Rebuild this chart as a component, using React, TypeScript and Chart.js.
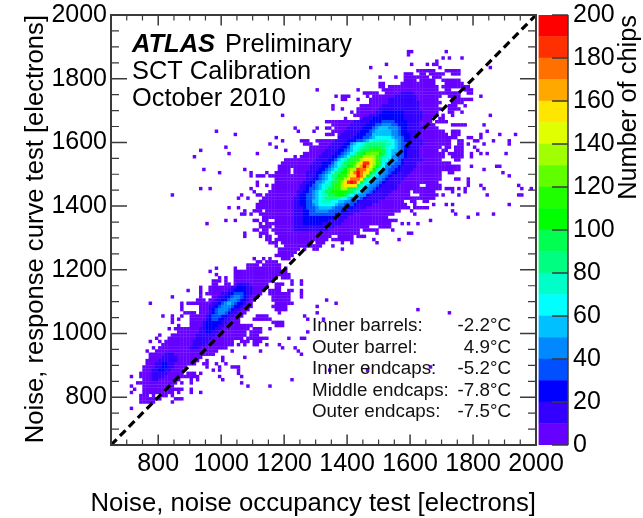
import React, { useEffect, useRef } from "react";
import { Chart, registerables } from "chart.js";

Chart.register(...registerables);

const FONT = '"Liberation Sans", Arial, sans-serif';

const axisLabels = [800, 1000, 1200, 1400, 1600, 1800, 2000];
const barTicks = [0, 20, 40, 60, 80, 100, 120, 140, 160, 180, 200];
const bandColors = [
  "#6600ff", "#3300ff", "#0000ff", "#0050ff", "#0088ff", "#00c0ff", "#00ffff", "#00ffc8", "#00ff80", "#00ff50",
  "#00ff00", "#20ff00", "#60ff00", "#a0ff00", "#e0ff00", "#ffe600", "#ffa800", "#ff7000", "#ff3000", "#ff0000",
];
const headerLines = ["SCT Calibration", "October 2010"];
const regionNames = ["Inner barrels:", "Outer barrel:", "Inner endcaps:", "Middle endcaps:", "Outer endcaps:"];
const regionTemps = ["-2.2°C", "4.9°C", "-5.2°C", "-7.8°C", "-7.5°C"];

// "lower y edge | bin-index spans = count in tens" (later spans overwrite earlier ones)
const upperRows = [
  "1880|94-95 106",
  "1870|94",
  "1860|105 107 111",
  "1850|103",
  "1840|87 95 100 102-103",
  "1830|82 104 120",
  "1820|97-102 106-110",
  "1810|93-95 98-99 101-105 108-110",
  "1800|85 90 93-100 102-104",
  "1790|93-96 98-102 105-110",
  "1780|85-86 92-102 106-111",
  "1770|85-86 88-103 105-113",
  "1760|65 78 86-103 106-107 112-114",
  "1750|80-84 87-104 105-110 113-114 92-95=1",
  "1740|71 73-75 81 83-84 85-104 107-110 117 90-96=1",
  "1730|73-74 78 82-84 85-103 108-114 88-96=1",
  "1720|82-83 84-104 108-111 88-97=1",
  "1710|70 79-83 84-103 107-109 112 86-97=1",
  "1700|70 73 78-104 107-110 85-97=1",
  "1690|76 78-103 107-108 111 84-98=1 86-92=2",
  "1680|54 77-103 105 108 120 82-98=1 85-92=2",
  "1670|74 79-101 104-105 80-98=1 83-92=2",
  "1660|68-76 77-101 103-106 77-97=1 82-93=2 86-89=3",
  "1650|70-102 108-112 118 76-97=1 81-93=2 84-90=3 86-88=4",
  "1640|58 65 68-69 71-103 75-98=1 80-93=2 83-91=3 84-90=4 85-87=5",
  "1630|33 59 64 70 71-105 108-110 119 74-97=1 79-93=2 82-91=3 83-90=4 84-88=5",
  "1620|39 68-70 72-106 108-110 117 123 128 73-97=1 78-94=2 81-91=3 83-90=4 83-88=5",
  "1610|52 72-107 108-109 113-114 117 72-97=1 77-94=2 80-92=3 82-91=4 83-89=5 84-88=6",
  "1600|54 60-62 65-107 110-111 115-116 121 126 71-98=1 75-94=2 78-92=3 80-91=4 81-90=5 82-89=6 83-87=7",
  "1590|50 61-63 66-107 110-111 113 118 126 70-98=1 74-94=2 76-93=3 76-91=4 77-90=5 78-89=6 80-88=7 81-86=8",
  "1580|36 52 63-64 65-104 106-107 109-111 115 69-97=1 73-94=2 75-92=3 76-91=4 76-90=5 77-89=6 79-87=7 80-86=8 82-85=9",
  "1570|28 55 63-103 105-106 109-111 116 68-97=1 72-93=2 74-92=3 75-91=4 76-90=5 77-88=6 78-87=7 79-86=8 80-86=9 82-85=11",
  "1560|37 46 61-103 104-105 107-111 114 117 119 125 67-97=1 71-93=2 73-92=3 74-90=4 75-89=5 76-88=6 77-87=7 78-86=9 80-85=10 81-84=12",
  "1550|26 58 60-103 104-105 108-111 114 66-97=1 70-93=2 72-92=3 73-90=4 74-88=5 75-88=6 76-87=7 76-85=9 78-84=11 80-83=13",
  "1540|55-57 58-104 109-110 65-98=1 69-92=2 71-91=3 72-90=4 72-88=5 73-87=6 74-86=7 75-85=9 77-84=11 79-83=13 80-82=15",
  "1530|54-105 106-107 64-96=1 67-92=2 70-91=3 71-89=4 71-87=5 72-86=6 73-85=7 74-85=9 76-84=11 78-83=13 79-82=15 80-81=18",
  "1520|53-106 107-110 114 122-123 63-96=1 67-91=2 69-90=3 70-88=4 71-86=5 72-86=6 73-85=8 75-84=10 77-83=12 78-82=14 79-81=16 80=19",
  "1510|29 42 53-56 58-99 100-106 107-110 118 63-95=1 66-91=2 68-89=3 69-87=4 70-85=5 71-85=6 72-84=8 74-83=10 75-82=12 76-82=13 78-81=15 79-80=17 78=18",
  "1500|34 44 49 52-56 58-104 107-108 124 62-94=1 65-90=2 67-88=3 68-87=4 69-85=5 70-84=6 71-83=8 73-82=10 75-81=12 76-81=15 77-79=17 78=19",
  "1490|44 46-48 50-51 52-104 126 62-93=1 65-88=2 66-87=3 67-86=4 68-84=5 69-83=6 70-82=8 72-81=10 73-80=11 75-80=13 76-80=15 78-79=17 78=19",
  "1480|52-104 109-110 113 62-92=1 64-87=2 66-86=3 67-85=4 68-83=5 69-82=6 70-81=7 71-80=9 72-79=11 74-79=13 75-79=15 76-78=17",
  "1470|46 52-103 113 61-91=1 63-86=2 65-85=3 65-84=4 67-82=5 68-81=6 69-80=7 70-79=9 72-78=11 73-78=13 74-78=15 75-77=18 76=19",
  "1460|46 49 51-97 100-104 113 117 129 60-90=1 62-85=2 64-84=3 65-83=4 66-81=5 67-80=6 68-79=7 70-78=9 71-77=11 73-76=13 74-77=15",
  "1450|28 31 44 51-95 96-104 106-108 110 112 118 130 133 60-90=1 62-84=2 63-83=3 65-82=4 66-80=5 67-79=6 68-78=7 69-77=9 71-75=11 73-74=13",
  "1440|45 50-94 96-102 108 112 59-88=1 61-83=2 63-82=3 64-81=4 65-79=5 66-78=6 67-77=7 68-76=9 70-74=10",
  "1430|19 41 46-47 49-94 98-103 105 110 119 129-130 59-87=1 60-81=2 62-80=3 64-80=4 65-77=5 66-76=6 67-75=7 69-74=9 71-73=10",
  "1420|40 43 48-96 97-102 58-86=1 60-80=2 62-79=3 64-78=4 65-75=5 66-74=6 67-72=7 68-71=8",
  "1410|47-92 95-96 99-100 58-84=1 60-78=2 62-77=3 64-75=4 64-73=5 66-71=6 67-69=7",
  "1400|46-93 96 102 106 108 126 58-82=1 60-77=2 62-76=3 64-73=4 65-71=5 66-70=6",
  "1390|37 40 46-94 96-100 58-80=1 61-76=2 62-74=3 65-70=4 66-69=5",
  "1380|42 45-47 49-91 95 108 58-78=1 61-74=2 63-72=3 65-68=4",
  "1370|41-42 44 47 48-89 96 109 116 121 58-76=1 61-72=2 63-70=3",
  "1360|48-87 113 58-74=1 61-70=2",
  "1350|36 39 45-46 48-49 52-82 83-85 86-90 101 58-73=1 61-68=2",
  "1340|30 47 49-82 83-88 92 94 97 58-72=1 61-66=2",
  "1330|47-50 52-81 85-88 58-70=1",
  "1320|45-46 48-49 51-78 80-84 89 58-68=1",
  "1310|42 47-49 52-78 84 94-95",
  "1300|42 47 49-50 53-69 72-76 78-80",
  "1290|49-50 52-64 65-68 70-76 83 91",
];

const lowerRows = [
  "1280|50-52 54-63 65-67 73 76 84",
  "1270|52 55-59 60-63 64-66 70",
  "1260|53-59 61 64-65 73",
  "1250|53-58",
  "1240|52-57",
  "1230|45 48 50 54-56",
  "1220|46-47 49-52",
  "1210|43-46 48-53",
  "1200|33 39 43-46 47-53 55",
  "1190|31 39-55",
  "1180|33 39-53 54-56",
  "1170|34 36 39-52 54-56",
  "1160|32-34 36 39-51 57 60",
  "1150|32-33 36-37 39-49 52-54 57 60 40-43=1",
  "1140|28 31-49 52-53 38-44=1 40-42=2",
  "1130|24 28 31-48 50-53 56-57 60 37-44=1 39-42=2",
  "1120|28 30-47 50-52 53-56 60 35-44=1 37-42=2 39-41=3",
  "1110|19 28 32-46 51-53 54-56 60 34-43=1 36-42=2 38-41=3 39-40=4",
  "1100|27-29 31-45 51-56 68 33-43=1 35-42=2 37-40=3 38-39=4",
  "1090|12 22 24-27 28-44 52-56 57 71 32-42=1 34-41=2 35-39=3 36-38=4 37=5",
  "1080|22 28-44 51-55 65 31-41=1 33-40=2 34-38=3 35-37=4",
  "1070|22 28-43 52-55 97 31-40=1 32-38=2 33-37=3 34-36=4",
  "1060|23-26 28-42 53 65 107 31-39=1 32-37=2 33-36=3 34-35=4",
  "1050|16 19 22 25-41 46-49 61 30-38=1 31-36=2 32-34=3",
  "1040|19 21 25-40 45-50 62 67 30-37=1 31-35=2 32-33=3",
  "1030|19 25-40 51-54 29-36=1 30-34=2",
  "1020|21 25-42 43 44 52-54 29-35=1 30-33=2",
  "1010|18 20-43 45-47 50 28-34=1 30-32=2",
  "1000|21-42 44-47 62 28-33=1 30-31=2",
  "990|15 19-42 44-46 27-32=1",
  "980|14 18-41 43-49 56 60-61 27-31=1",
  "970|12 15 17-38 41-43 45-47 26-30=1",
  "960|16 17-38 40 42 45-46 49 53 26-29=1",
  "950|13 15-36 54 58 25-27=1",
  "940|11 14-33 38 47 59",
  "930|12-32 60 17-19=1",
  "920|12-28 35 42 16-20=1",
  "910|11-27 30 35 15-20=1",
  "900|11-26 29-30 33 36 14-19=1 16-17=2",
  "890|10-23 30 34 38-40 101 14-19=1 16-17=2",
  "880|10-22 32 34 40 69 81 13-18=1 15-16=2",
  "870|9-22 24-26 28 40 13-17=1",
  "860|6 9-22 23-27 34 41 13-16=1",
  "850|10-21 25 27 35 57 13-14=1",
  "840|8-20 22 25 41",
  "830|6 10-19 43 50",
  "820|7 10-19 20-22 25",
  "810|6 10-17 18-19 21 25 28",
  "800|9-11 13 16-17 19",
  "790|9-13 14-15 20-22",
  "780|9-13 19",
  "760|6",
];

const BIN_START = 650;
const BIN_WIDTH = 10;

type Cell = { x: number; y: number; count: number };

function decodeRows(rows: string[]): Cell[] {
  const out: Cell[] = [];
  rows.forEach((row) => {
    const [yEdge, spans] = row.split("|");
    const cells = new Map<number, number>();
    spans.split(" ").forEach((token) => {
      const [range, tens = "0"] = token.split("=");
      const [a, b = a] = range.split("-");
      for (let k = Number(a); k <= Number(b); k++) cells.set(k, Number(tens));
    });
    cells.forEach((tens, k) => {
      out.push({
        x: BIN_START + BIN_WIDTH * k + BIN_WIDTH / 2,
        y: Number(yEdge) + BIN_WIDTH / 2,
        count: tens * 10 + 5,
      });
    });
  });
  return out;
}

const INK = "#3a3a3a";

function clearScalePadding(s: any) {
  s.paddingTop = 0;
  s.paddingBottom = 0;
  s.paddingLeft = 0;
  s.paddingRight = 0;
}

const framePlugin = {
  id: "frame",
  afterDatasetsDraw(chart: any) {
    const { ctx, chartArea: a, scales } = chart;
    const xs = scales.x;
    const ys = scales.y;
    ctx.save();
    ctx.strokeStyle = INK;
    for (let v = 650; v <= 2000; v += 50) {
      const major = axisLabels.includes(v);
      ctx.lineWidth = major ? 1.5 : 1.2;
      const px = xs.getPixelForValue(v);
      const py = ys.getPixelForValue(v);
      const lx = major ? 10.5 : 5.5;
      const ly = major ? 16 : 8;
      ctx.beginPath();
      ctx.moveTo(px, a.bottom);
      ctx.lineTo(px, a.bottom - lx);
      ctx.moveTo(px, a.top);
      ctx.lineTo(px, a.top + lx);
      ctx.moveTo(a.left, py);
      ctx.lineTo(a.left + ly, py);
      ctx.moveTo(a.right, py);
      ctx.lineTo(a.right - ly, py);
      ctx.stroke();
    }
    ctx.lineWidth = 2;
    ctx.strokeRect(a.left, a.top, a.right - a.left, a.bottom - a.top);

    ctx.fillStyle = "#000";
    ctx.textBaseline = "alphabetic";
    ctx.textAlign = "left";
    ctx.font = `italic bold 25.5px ${FONT}`;
    ctx.fillText("ATLAS", 132, 52);
    ctx.font = `25.4px ${FONT}`;
    ctx.fillText("Preliminary", 225, 52);
    headerLines.forEach((t, i) => ctx.fillText(t, 132, 79 + i * 27));

    ctx.font = `25.7px ${FONT}`;
    ctx.textAlign = "right";
    ctx.fillText("Noise, noise occupancy test [electrons]", a.right, 511);

    ctx.font = `18.8px ${FONT}`;
    regionNames.forEach((t, i) => {
      const baseline = 331 + i * 21.6;
      ctx.textAlign = "left";
      ctx.fillStyle = "#111";
      ctx.fillText(t, 312, baseline);
      ctx.textAlign = "right";
      ctx.fillText(regionTemps[i], 511, baseline);
    });
    ctx.restore();
  },
};

const barPlugin = {
  id: "barFrame",
  afterDatasetsDraw(chart: any) {
    const { ctx, chartArea: a, scales } = chart;
    ctx.save();
    ctx.strokeStyle = INK;
    ctx.lineWidth = 1.5;
    barTicks.forEach((v) => {
      const py = scales.y.getPixelForValue(v);
      ctx.beginPath();
      ctx.moveTo(a.right, py);
      ctx.lineTo(a.right - 16, py);
      ctx.stroke();
    });
    ctx.beginPath();
    ctx.moveTo(a.right, a.top);
    ctx.lineTo(a.right, a.bottom);
    ctx.stroke();
    ctx.translate(629, a.top);
    ctx.rotate(-Math.PI / 2);
    ctx.fillStyle = "#000";
    ctx.font = `25.4px ${FONT}`;
    ctx.textAlign = "right";
    ctx.textBaseline = "middle";
    ctx.fillText("Number of chips", 0, 0);
    ctx.restore();
  },
};

export default function App() {
  const mainRef = useRef<HTMLCanvasElement>(null);
  const barRef = useRef<HTMLCanvasElement>(null);

  useEffect(() => {
    const cells = [...decodeRows(upperRows), ...decodeRows(lowerRows)];
    const cellSets = bandColors.map((color, i) => ({
      label: `${i * 10}-${i * 10 + 10}`,
      data: cells.filter((c) => Math.floor(c.count / 10) === i).map((c) => ({ x: c.x, y: c.y })),
      backgroundColor: color,
      pointStyle: "rect",
      pointRadius: 2.45,
      pointBorderWidth: 0,
      borderWidth: 0,
      order: 21 - i,
    }));

    const main = new Chart(mainRef.current!, {
      type: "scatter",
      data: {
        datasets: [
          ...cellSets,
          {
            label: "diagonal",
            data: [
              { x: 650, y: 650 },
              { x: 2000, y: 2000 },
            ],
            showLine: true,
            pointRadius: 0,
            borderColor: "#000",
            borderWidth: 3.2,
            borderDash: [8, 4.7],
            order: 0,
          },
        ],
      } as any,
      plugins: [framePlugin],
      options: {
        responsive: false,
        animation: false,
        layout: { padding: { left: 0, top: 15, right: 107, bottom: 0 } },
        plugins: { legend: { display: false }, tooltip: { enabled: false } },
        scales: {
          x: {
            type: "linear",
            min: 650,
            max: 2000,
            grid: { display: false, drawTicks: false },
            border: { display: false },
            afterFit: (s: any) => {
              s.height = 73;
              clearScalePadding(s);
            },
            afterBuildTicks: (s: any) => {
              s.ticks = axisLabels.map((value) => ({ value }));
            },
            ticks: {
              autoSkip: false,
              maxRotation: 0,
              padding: 4,
              color: "#000",
              font: { family: FONT, size: 25 },
              callback: (v: any) => String(v),
            },
          },
          y: {
            type: "linear",
            min: 650,
            max: 2000,
            grid: { display: false, drawTicks: false },
            border: { display: false },
            afterFit: (s: any) => {
              s.width = 111;
              clearScalePadding(s);
            },
            afterBuildTicks: (s: any) => {
              s.ticks = axisLabels.map((value) => ({ value }));
            },
            ticks: {
              autoSkip: false,
              padding: 4,
              color: "#000",
              font: { family: FONT, size: 25 },
              callback: (v: any) => String(v),
            },
            title: {
              display: true,
              text: "Noise, response curve test [electrons]",
              align: "end",
              color: "#000",
              font: { family: FONT, size: 25.6 },
              padding: { top: 21, bottom: 0 },
            },
          },
        },
      } as any,
    });

    const bar = new Chart(barRef.current!, {
      type: "bar",
      data: {
        labels: ["chips"],
        datasets: bandColors.map((color, i) => ({
          label: `${i * 10}`,
          data: [[i * 10, i * 10 + 10]],
          backgroundColor: color,
          barPercentage: 1,
          categoryPercentage: 1,
          grouped: false,
        })),
      } as any,
      plugins: [barPlugin],
      options: {
        responsive: false,
        animation: false,
        layout: { padding: { left: 538.5, top: 15, right: 0, bottom: 73 } },
        plugins: { legend: { display: false }, tooltip: { enabled: false } },
        scales: {
          x: { display: false },
          y: {
            position: "right",
            min: 0,
            max: 200,
            grid: { display: false, drawTicks: false },
            border: { display: false },
            afterFit: (s: any) => {
              s.width = 75;
              clearScalePadding(s);
            },
            afterBuildTicks: (s: any) => {
              s.ticks = barTicks.map((value) => ({ value }));
            },
            ticks: {
              autoSkip: false,
              padding: 5,
              color: "#000",
              font: { family: FONT, size: 25 },
              callback: (v: any) => String(v),
            },
          },
        },
      } as any,
    });

    return () => {
      main.destroy();
      bar.destroy();
    };
  }, []);

  const full: React.CSSProperties = { position: "absolute", left: 0, top: 0, display: "block" };
  return (
    <div style={{ position: "absolute", left: 0, top: 0, width: 643, height: 518, background: "#fff" }}>
      <canvas ref={mainRef} width={643} height={518} style={full} />
      <canvas ref={barRef} width={643} height={518} style={full} />
    </div>
  );
}
